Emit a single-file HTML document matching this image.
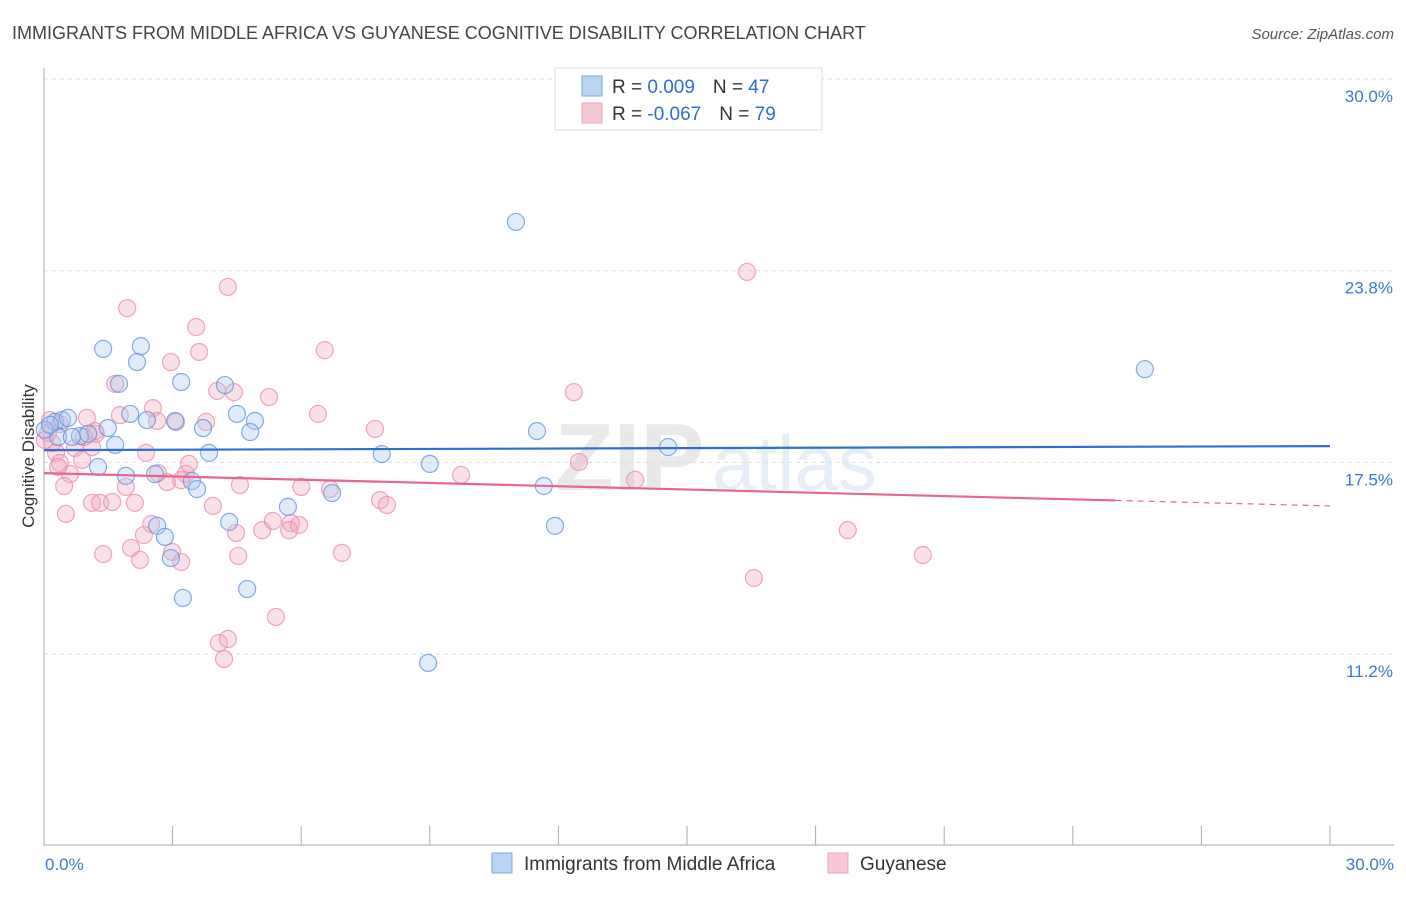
<!DOCTYPE html>
<html><head><meta charset="utf-8"><style>
body{margin:0;background:#fff;font-family:"Liberation Sans",sans-serif;}
svg text{font-family:"Liberation Sans",sans-serif;}
</style></head><body>
<svg id="chart" width="1406" height="892" viewBox="0 0 1406 892" xmlns="http://www.w3.org/2000/svg">
<text x="12" y="39" font-size="18" fill="#444">IMMIGRANTS FROM MIDDLE AFRICA VS GUYANESE COGNITIVE DISABILITY CORRELATION CHART</text>
<text x="1394" y="39" font-size="15" fill="#555" text-anchor="end" font-style="italic">Source: ZipAtlas.com</text>
<g opacity="0.18">
<text x="555" y="490" font-size="96" font-family="Liberation Serif" fill="#888" font-weight="bold">ZIP</text>
<text x="712" y="490" font-size="78" fill="#7aa6d9">atlas</text>
</g>
<g id="grid"></g>
<g id="axes"></g>
<g id="pts"></g>
<g id="trends"></g>
<text transform="translate(34,456) rotate(-90)" font-size="17" fill="#333" text-anchor="middle">Cognitive Disability</text>
<g>
<rect x="555" y="68" width="267" height="62" fill="#fff" stroke="#ddd"/>
<rect x="582" y="76" width="20" height="20" fill="#bcd4f3" stroke="#7aa6e0"/>
<rect x="582" y="103" width="20" height="20" fill="#f8c8d6" stroke="#eea0b8"/>
<text x="612" y="93" font-size="19" fill="#333">R = <tspan fill="#2d6fd1"> 0.009</tspan><tspan dx="18">N = </tspan><tspan fill="#2d6fd1">47</tspan></text>
<text x="612" y="120" font-size="19" fill="#333">R = <tspan fill="#2d6fd1">-0.067</tspan><tspan dx="18">N = </tspan><tspan fill="#2d6fd1">79</tspan></text>
</g>
<g>
<rect x="492" y="853" width="20" height="20" fill="#bcd4f3" stroke="#7aa6e0"/>
<text x="524" y="870" font-size="19" fill="#333">Immigrants from Middle Africa</text>
<rect x="828" y="853" width="20" height="20" fill="#f8c8d6" stroke="#eea0b8"/>
<text x="860" y="870" font-size="19" fill="#333">Guyanese</text>
</g>
</svg>
<script>
const yTicks=[30,23.75,17.5,11.25];
const yTickLabels=["30.0%","23.8%","17.5%","11.2%"];
const xTickLabels=["0.0%","30.0%"];
const blueX=[0.26,0.42,0.56,0.33,0.84,1.03,1.49,1.66,1.26,1.91,1.38,1.75,2.17,2.26,2.01,2.40,3.20,3.06,3.71,3.85,2.59,3.45,3.57,2.64,2.82,2.96,3.24,4.22,4.50,4.92,4.81,4.32,4.74,5.69,6.72,7.88,9.00,8.96,11.01,11.50,11.66,11.92,14.56,25.68,0.02,0.14,0.65];
const blueY=[18.82,18.88,18.95,18.33,18.36,18.43,18.62,18.07,17.35,17.06,21.20,20.06,20.77,21.29,19.08,18.88,20.12,18.85,18.62,17.81,17.12,16.89,16.63,15.43,15.07,14.38,13.08,20.02,19.08,18.85,18.49,15.56,13.37,16.05,16.50,17.77,17.45,10.96,25.34,18.52,16.73,15.43,18.00,20.54,18.56,18.72,18.33];
const pinkX=[1.94,4.29,3.55,2.96,3.62,6.55,16.40,1.66,4.04,4.43,5.25,12.36,1.00,1.77,2.54,2.64,3.08,3.78,6.39,7.72,1.19,1.12,0.72,0.28,0.37,0.61,0.47,0.33,0.89,2.38,1.91,2.66,3.31,3.38,2.87,4.57,6.00,6.67,7.84,8.00,9.73,12.48,13.79,1.12,1.31,1.59,2.12,0.51,1.38,2.03,2.24,2.50,2.33,2.99,3.20,3.94,4.48,4.53,5.09,5.34,5.76,5.72,5.95,6.95,5.41,4.08,4.29,4.20,18.75,20.50,16.56,0.14,0.19,0.09,0.93,1.21,0.37,0.02,3.20];
const pinkY=[22.53,23.22,21.91,20.77,21.10,21.16,23.71,20.06,19.83,19.79,19.63,19.79,18.95,19.04,19.27,18.85,18.82,18.82,19.08,18.59,18.52,18.00,17.97,17.81,17.48,17.12,16.73,17.35,17.58,17.81,16.70,17.15,17.12,17.45,16.86,16.76,16.70,16.63,16.27,16.11,17.09,17.51,16.93,16.18,16.18,16.21,16.18,15.82,14.51,14.71,14.32,15.49,15.13,14.58,14.25,16.08,15.20,14.45,15.29,15.59,15.52,15.29,15.46,14.55,12.46,11.61,11.74,11.09,15.29,14.48,13.73,18.88,18.13,18.46,18.33,18.43,18.75,18.23,16.92];
const blueTrend=[17.90,18.03];
const pinkTrend=[17.15,16.08];
const pinkSolidEnd=25;
const X=v=>44+v*(1330-44)/30;
const Y=v=>79+(30-v)*30.67;
const NS="http://www.w3.org/2000/svg";
function mk(t,a,p){const e=document.createElementNS(NS,t);for(const k in a)e.setAttribute(k,a[k]);p.appendChild(e);return e;}
const grid=document.getElementById('grid'),axes=document.getElementById('axes'),pts=document.getElementById('pts'),tr=document.getElementById('trends');
yTicks.forEach((t,i)=>{
 const l=mk('line',{x1:44,x2:1394,y1:Y(t),y2:Y(t),stroke:'#ddd','stroke-dasharray':'4,4'},grid);
 
 
 const tx=mk('text',{x:1393,y:Y(t)+23,'font-size':17,fill:'#3a78d4','text-anchor':'end'},axes);
 tx.textContent=yTickLabels[i];
 
 
});
mk('line',{x1:44,x2:44,y1:68,y2:846,stroke:'#aaa'},axes);
mk('line',{x1:44,x2:1394,y1:845,y2:845,stroke:'#aaa'},axes);
for(let i=0;i<=10;i++){mk('line',{x1:X(i*3),x2:X(i*3),y1:826,y2:845,stroke:'#aaa'},axes);}
[[0,'start',45],[30,'end',1394]].forEach((d,i)=>{const t=mk('text',{x:d[2],y:870,'font-size':17,fill:'#3a78d4','text-anchor':d[1]},axes);t.textContent=xTickLabels[i];

});
function dots(xs,ys,fill,stroke,name){xs.forEach((x,i)=>{const c=mk('circle',{cx:X(x),cy:Y(ys[i]),r:8.5,fill:fill,'fill-opacity':0.35,stroke:stroke,'stroke-opacity':0.75,'stroke-width':1.2},pts);

});}
dots(pinkX,pinkY,'#f4a7bf','#e98aa9','guyanese-point');
dots(blueX,blueY,'#a9c8f0','#5b93dc','middle-africa-point');
const b=mk('line',{x1:X(0),y1:Y(blueTrend[0]),x2:X(30),y2:Y(blueTrend[1]),stroke:'#2f6fd0','stroke-width':2.2},tr);


const pm=pinkTrend[0]+(pinkTrend[1]-pinkTrend[0])*pinkSolidEnd/30;
const p1=mk('line',{x1:X(0),y1:Y(pinkTrend[0]),x2:X(pinkSolidEnd),y2:Y(pm),stroke:'#e5668f','stroke-width':2.2},tr);


const p2=mk('line',{x1:X(pinkSolidEnd),y1:Y(pm),x2:X(30),y2:Y(pinkTrend[1]),stroke:'#e5668f','stroke-width':1.2,'stroke-dasharray':'6,5'},tr);


</script>
</body></html>
